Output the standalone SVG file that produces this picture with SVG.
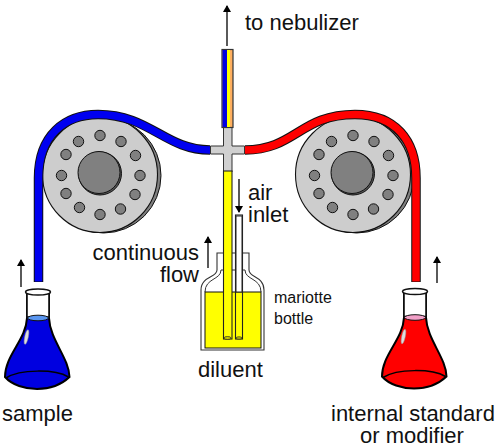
<svg xmlns="http://www.w3.org/2000/svg" width="495" height="448" viewBox="0 0 495 448">
<defs>
<style>
text{font-family:"Liberation Sans",Arial,sans-serif;fill:#111}
.l{font-size:22px}
.s{font-size:16px}
.hole{fill:#808080;stroke:#111;stroke-width:1}
.arr{fill:none;stroke:#000;stroke-width:1.3;marker-end:url(#ah)}
</style>
<marker id="ah" markerUnits="userSpaceOnUse" markerWidth="8" markerHeight="9" refX="6" refY="4" orient="auto"><path d="M0 0L7 4L0 8Z" fill="#000"/></marker>
<g id="wheel">
<circle cx="3.5" cy="1" r="57.5" fill="#808080" stroke="#111"/>
<ellipse cx="0" cy="0" rx="57.5" ry="58" fill="#cdcdcd" stroke="#111" stroke-width="1.1"/>
<circle cx="0" cy="-1" r="21.5" fill="#555" stroke="#111"/>
<circle cx="-1" cy="-2" r="21" fill="#808080" stroke="#111"/>
<circle class="hole" cx="0" cy="-39" r="5.2"/><circle class="hole" cx="21" cy="-33" r="5.2"/><circle class="hole" cx="35.5" cy="-19" r="5.2"/><circle class="hole" cx="40" cy="1" r="5.2"/><circle class="hole" cx="35" cy="20" r="5.2"/><circle class="hole" cx="20.5" cy="34.500" r="5.200"/><circle class="hole" cx="0" cy="40" r="5.2"/><circle class="hole" cx="-20.500" cy="33" r="5.2"/><circle class="hole" cx="-34" cy="19" r="5.2"/><circle class="hole" cx="-38.500" cy="1" r="5.2"/><circle class="hole" cx="-34" cy="-20" r="5.2"/><circle class="hole" cx="-21.500" cy="-33" r="5.2"/>
</g>
<path id="flask-body" d="M27 318C26 340 5 355 5 377C12 385 25 389 37 389C50 389 60 386 69.500 377C69 358 50 340 49 318V292H27Z"/>
</defs>
<rect width="495" height="448" fill="#fff"/>
<use id="wheel-left" href="#wheel" x="100" y="174.500"/>
<use id="wheel-right" href="#wheel" x="353" y="174.500"/>
<g id="connectors">
<path d="M38.500 282V178C38.500 135 65 114.500 98 114.500C150 114.500 165 150 210 150" fill="none" stroke="#111" stroke-width="9.500"/>
<path d="M38.500 281.500V178C38.500 135 65 114.500 98 114.500C150 114.500 165 150 210 150" fill="none" stroke="#0000f0" stroke-width="7.500"/>
<path d="M245 150C295 150 300 114.500 355 114.500C395 114.500 416 140 416 178V282" fill="none" stroke="#111" stroke-width="9.500"/>
<path d="M245 150C295 150 300 114.500 355 114.500C395 114.500 416 140 416 178V281.500" fill="none" stroke="#f00" stroke-width="7.500"/>
<path class="arr" d="M227 46V6"/>
<path class="arr" d="M239 179V212"/>
<path class="arr" d="M208 268V237"/>
<path class="arr" d="M21 287V260"/>
<path class="arr" d="M437 283V257"/>
</g>
<g id="cross">
<path d="M223.500 127H232V146H244.500V154H232V172H223.500V154H210.500V146H223.500Z" fill="#d0d0d0" stroke="#333" stroke-width="1"/>
</g>
<g id="nebulizer-tube">
<rect x="222" y="49.500" width="11" height="78" fill="#ffb060" stroke="#333" stroke-width="1.2"/>
<rect x="222.500" y="50" width="4.500" height="77" fill="#0000e0"/>
<rect x="227" y="50" width="3" height="77" fill="#ff0"/>
</g>
<g id="bottle">
<path d="M217 270V253H249V270C249 278 264 276 264 290V350H201V290C201 276 217 278 217 270Z" fill="#fff" stroke="#333" stroke-width="1.1"/>
<path d="M221 270C221 280 205 278 205 292M245 270C245 280 261 278 261 292M221 270H245" fill="none" stroke="#333"/>
<rect x="205" y="292" width="56" height="56" fill="#ff0" stroke="#111" stroke-width="1"/>
<rect x="235.500" y="215" width="7" height="124" fill="#fff" fill-opacity="0" stroke="#222" stroke-width="1.1"/>
<rect x="223.500" y="171" width="8.500" height="168" fill="#ff0" stroke="#222" stroke-width="1.1"/>
<ellipse cx="227.500" cy="338" rx="3.500" ry="1.500" fill="#cc0" stroke="#222" stroke-width=".7"/>
<ellipse cx="239" cy="338" rx="3" ry="1.200" fill="#cc0" stroke="#222" stroke-width=".7"/>
<rect x="236" y="216" width="6" height="76" fill="#fff" stroke="#222"/>
</g>
<g id="flask-left">
<use href="#flask-body" fill="#0000e0" stroke="#000" stroke-width="2"/>
<path d="M27 317V292H49V317Z" fill="#fff" stroke="#111" stroke-width="1.600"/>
<ellipse cx="38" cy="318" rx="10.500" ry="2.800" fill="#5a96f0" stroke="#111"/>
<ellipse cx="38" cy="292" rx="12.500" ry="3" fill="#fff" stroke="#111" stroke-width="1.500"/>
<path d="M6 378C20 369 55 369 68.500 377" fill="none" stroke="#000" stroke-width="1.500"/>
<ellipse cx="26.500" cy="337" rx="1.800" ry="7.500" fill="#ddd" stroke="#999" stroke-width=".5" transform="rotate(12 26.500 337)"/>
</g>
<g id="flask-right" transform="translate(377 -0.500)">
<use href="#flask-body" fill="#f00" stroke="#000" stroke-width="2"/>
<path d="M27 317V292H49V317Z" fill="#fff" stroke="#111" stroke-width="1.600"/>
<ellipse cx="38" cy="318" rx="10.500" ry="2.800" fill="#f2a0c8" stroke="#111"/>
<ellipse cx="38" cy="292" rx="12.500" ry="3" fill="#fff" stroke="#111" stroke-width="1.500"/>
<path d="M6 378C20 369 55 369 68.500 377" fill="none" stroke="#000" stroke-width="1.500"/>
<ellipse cx="26.500" cy="337" rx="1.800" ry="7.500" fill="#ddd" stroke="#999" stroke-width=".5" transform="rotate(12 26.500 337)"/>
</g>
<g id="labels">
<text class="l" x="245" y="30">to nebulizer</text>
<text class="l"><tspan x="248" y="200">air</tspan><tspan x="248" y="222">inlet</tspan></text>
<text class="l" text-anchor="end"><tspan x="199" y="260">continuous</tspan><tspan x="199" y="282">flow</tspan></text>
<text class="s"><tspan x="274" y="303">mariotte</tspan><tspan x="274" y="324">bottle</tspan></text>
<text class="l" x="198" y="377">diluent</text>
<text class="l" x="2" y="421">sample</text>
<text class="l"><tspan x="331" y="421">internal standard</tspan><tspan x="360" y="443">or modifier</tspan></text>
</g>
</svg>
